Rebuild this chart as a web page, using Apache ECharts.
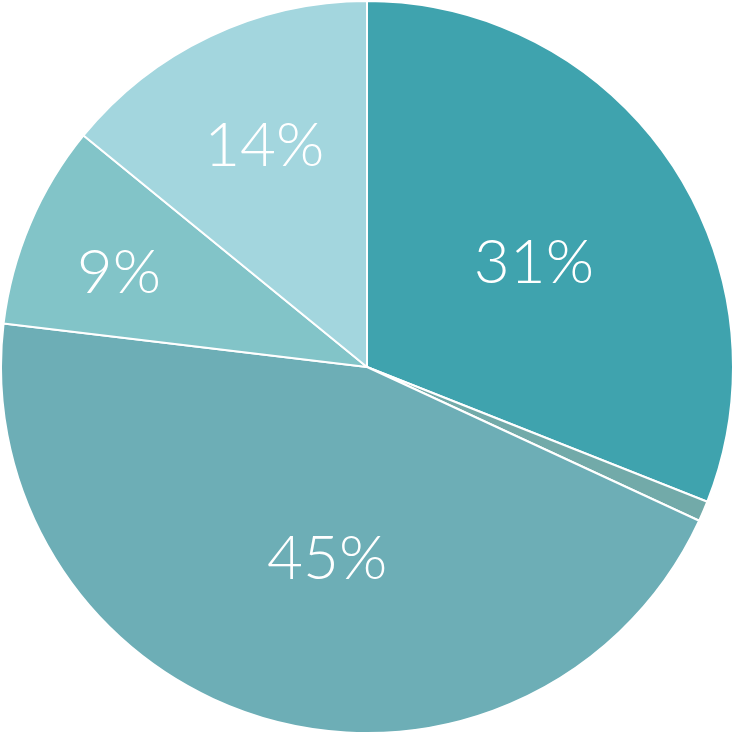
<!DOCTYPE html>
<html>
<head>
<meta charset="utf-8">
<script src="https://cdn.jsdelivr.net/npm/echarts@6/dist/echarts.min.js"></script>
<style>
html,body{margin:0;padding:0;background:#fff;}
#chart{width:734px;height:734px;}
</style>
</head>
<body>
<div id="chart"></div>
<script>
var categories = ['A', 'B', 'C', 'D', 'E'];
var values = [31, 0.9, 45, 9, 14.1];
var colors = ['#3fa3ae', '#72aaa9', '#6daeb6', '#82c4c8', '#a3d6de'];
var showLabel = [true, false, true, true, true];
var labelShift = [[13, 1], [0, 0], [11, 13], [-77, -21], [-23, -53]];

var chart = echarts.init(document.getElementById('chart'), null, {renderer: 'canvas'});
var data = categories.map(function (c, i) {
  return {
    name: c,
    value: values[i],
    itemStyle: {color: colors[i]},
    label: {show: showLabel[i]}
  };
});
chart.setOption({
  backgroundColor: '#ffffff',
  animation: false,
  series: [{
    type: 'pie',
    center: ['50%', '50%'],
    radius: [0, 366],
    startAngle: 90,
    clockwise: true,
    avoidLabelOverlap: false,
    data: data,
    itemStyle: {borderColor: '#ffffff', borderWidth: 2},
    label: {
      position: 'inside',
      color: '#ffffff',
      fontFamily: 'Lato',
      fontWeight: 300,
      fontSize: 62,
      formatter: function (p) { return Math.round(p.value) + '%'; }
    },
    labelLine: {show: false},
    labelLayout: function (p) {
      var s = labelShift[p.dataIndex];
      return {dx: s[0], dy: s[1]};
    },
    emphasis: {disabled: true}
  }]
});
</script>
</body>
</html>
